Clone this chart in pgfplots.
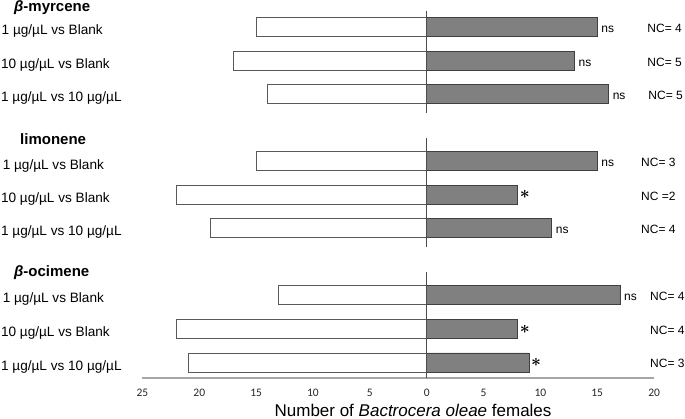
\documentclass[border=0pt]{standalone}
\usepackage{pgfplots}
\pgfplotsset{compat=1.18}
\usepackage{amsmath}
\usepackage{fontspec}
\setmainfont{Liberation Sans}
\newfontfamily\tickfont{Carlito}
\definecolor{barg}{HTML}{808080}
\definecolor{bard}{HTML}{404040}
\begin{document}
\begin{tikzpicture}[
 lab/.style={anchor=base west, inner sep=0pt, font=\fontsize{13.6}{15}\selectfont},
 hd/.style={anchor=base west, inner sep=0pt, font=\fontsize{15}{17}\selectfont\bfseries},
 ns/.style={anchor=base west, inner sep=0pt, xshift=4pt, font=\fontsize{12}{14}\selectfont},
 nc/.style={anchor=base west, inner sep=0pt, font=\fontsize{12}{14}\selectfont},
 st/.style={anchor=west, inner sep=0pt, xshift=2pt, font=\fontsize{19}{19}\selectfont},
]
\begin{axis}[
 scale only axis, width=511.7pt, height=378pt,
 xmin=-25, xmax=20, ymin=0, ymax=378,
 axis x line=bottom, axis y line=none,
 x axis line style={-, draw=black!35, line width=1.3pt},
 xtick={-25,-20,...,20}, xticklabels={25,20,15,10,5,0,5,10,15,20},
 major tick length=0pt,
 tick label style={font=\fontsize{11.5}{12}\selectfont\tickfont, text=black!85},
 xticklabel style={yshift=-7.8pt},
 clip=false,
]
\addplot[xbar, bar width=19, bar shift=0pt, fill=white, draw=black!65, line width=0.8pt]
 coordinates {(-15,351.3) (-17,317.3) (-14,284) (-15,216.7) (-22,183.3) (-19,150) (-13,83.3) (-22,49) (-21,15.5)};
\addplot[xbar, bar width=19, bar shift=0pt, fill=barg, draw=bard, line width=0.8pt]
 coordinates {(15,351.3) (13,317.3) (16,284) (15,216.7) (8,183.3) (11,150) (17,83.3) (8,49) (9,15.5)};
\addplot[black!70, line width=0.8pt] coordinates {(0,367.3) (0,265)};
\addplot[black!70, line width=0.8pt] coordinates {(0,239.7) (0,131.3)};
\addplot[black!70, line width=0.8pt] coordinates {(0,106.3) (0,0)};
% headings
\node[hd] at (axis cs:-36.30,366) {\textit{β}-myrcene};
\node[hd] at (axis cs:-35.77,233) {limonene};
\node[hd] at (axis cs:-36.30,101) {\textit{β}-ocimene};
% labels
\node[lab] at (axis cs:-37.40,343.3) {1 µg/µL vs Blank};
\node[lab] at (axis cs:-37.45,309.3) {10 µg/µL vs Blank};
\node[lab] at (axis cs:-37.45,276) {1 µg/µL vs 10 µg/µL};
\node[lab] at (axis cs:-37.30,208.7) {1 µg/µL vs Blank};
\node[lab] at (axis cs:-37.45,175.3) {10 µg/µL vs Blank};
\node[lab] at (axis cs:-37.45,142) {1 µg/µL vs 10 µg/µL};
\node[lab] at (axis cs:-37.30,75.3) {1 µg/µL vs Blank};
\node[lab] at (axis cs:-37.45,41) {10 µg/µL vs Blank};
\node[lab] at (axis cs:-37.45,7.5) {1 µg/µL vs 10 µg/µL};
% ns / stars
\node[ns] at (axis cs:15,345.8) {ns};
\node[ns] at (axis cs:13,311.8) {ns};
\node[ns] at (axis cs:16,278.5) {ns};
\node[ns] at (axis cs:15,211.2) {ns};
\node[st] at (axis cs:8,183.3) {$\boldsymbol{\ast}$};
\node[ns] at (axis cs:11,144.5) {ns};
\node[ns] at (axis cs:17,77.8) {ns};
\node[st] at (axis cs:8,49) {$\boldsymbol{\ast}$};
\node[st] at (axis cs:9,15.5) {$\boldsymbol{\ast}$};
% NC
\node[nc] at (axis cs:19.40,345.8) {NC= 4};
\node[nc] at (axis cs:19.40,311.8) {NC= 5};
\node[nc] at (axis cs:19.49,278.5) {NC= 5};
\node[nc] at (axis cs:18.85,211.2) {NC= 3};
\node[nc] at (axis cs:18.85,177.8) {NC =2};
\node[nc] at (axis cs:18.85,144.5) {NC= 4};
\node[nc] at (axis cs:19.64,77.8) {NC= 4};
\node[nc] at (axis cs:19.64,43.5) {NC= 4};
\node[nc] at (axis cs:19.64,10) {NC= 3};
% x label
\node[anchor=base, inner sep=0pt, font=\fontsize{17}{18}\selectfont] at (axis cs:-1.2,-38.5) {Number of \textit{Bactrocera oleae} females};
\coordinate (bl) at (axis cs:-37.53,-41);
\coordinate (tr) at (axis cs:22.72,378);
\end{axis}
\pgfresetboundingbox
\useasboundingbox (bl) rectangle (tr);
\end{tikzpicture}
\end{document}
